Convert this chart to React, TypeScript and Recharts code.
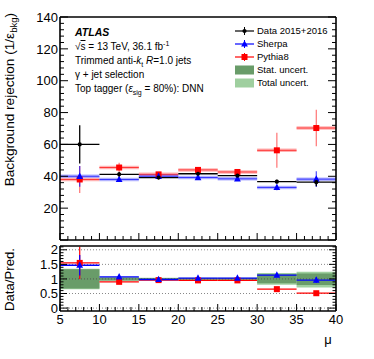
import React from 'react';
import {
  ComposedChart,
  Scatter,
  XAxis,
  YAxis,
  ErrorBar,
  ReferenceArea,
  ReferenceLine,
} from 'recharts';

// mu bins
const binCenters = [7.5, 12.5, 17.5, 22.5, 27.5, 32.5, 37.5];
const binHalfWidth = [2.5, 2.5, 2.5, 2.5, 2.5, 2.5, 2.5];

// top panel: background rejection
const dataVals = [60, 41.2, 39.2, 41.6, 40.4, 36.6, 36.3];
const dataErr = [12, 1.5, 1, 1, 1, 1.2, 2.5];
const sherpaVals = [40, 38, 40, 39.2, 38.4, 33, 38.2];
const sherpaErr = [6.5, 1.5, 1, 1.2, 1.2, 1.8, 5];
const pythiaVals = [38, 45.5, 41.2, 44, 42.7, 56.3, 70.3];
const pythiaErr = [8.5, 3, 1.5, 1.5, 1.5, 11, 11.5];

// bottom panel: data / prediction
const ratioSherpa = [1.47, 1.07, 0.98, 1.03, 1.03, 1.13, 0.96];
const ratioSherpaErr = [0.35, 0.05, 0.03, 0.04, 0.04, 0.06, 0.1];
const ratioPythia = [1.55, 0.9, 0.96, 0.95, 0.95, 0.65, 0.51];
const ratioPythiaErr = [0.55, 0.06, 0.03, 0.03, 0.03, 0.04, 0.04];
const statLow = [0.67, 0.95, 0.97, 0.97, 0.97, 0.85, 0.79];
const statHigh = [1.33, 1.05, 1.03, 1.03, 1.03, 1.16, 1.19];
const totLow = [0.65, 0.94, 0.96, 0.96, 0.96, 0.8, 0.71];
const totHigh = [1.35, 1.06, 1.04, 1.04, 1.04, 1.2, 1.25];

// ticks
const xMinorTicks = Array.from({ length: 36 }, (_, i) => 5 + i);
const xLabels = [5, 10, 15, 20, 25, 30, 35, 40];
const yTopTicks = Array.from({ length: 36 }, (_, i) => i * 4);
const yTopLabels = [20, 40, 60, 80, 100, 120, 140];
const yRatioTicks = Array.from({ length: 22 }, (_, i) => i / 10);
const yRatioLabels = [0, 0.5, 1, 1.5, 2];
const ratioGrid = [0, 0.5, 1, 1.5, 2];

const W = 374;
const H = 359;
const FONT = '"Liberation Sans", Arial, Helvetica, sans-serif';
const GREEN_STAT = '#699c69';
const GREEN_TOT = '#9fcf9f';

const rows = (vals: number[], errs: number[]) =>
  binCenters.map((x, i) => ({ x, y: vals[i], ex: binHalfWidth[i], ey: errs[i] }));

type Side = 'bottom' | 'top' | 'left' | 'right';

const makeTick =
  (side: Side, major: number, majorLen: number, minorLen: number, labels: number[]) =>
  (props: any) => {
    const { x, y, payload } = props;
    const v = payload.value as number;
    const isMajor = Math.abs(v / major - Math.round(v / major)) < 1e-6;
    const len = isMajor ? majorLen : minorLen;
    let x2 = x;
    let y2 = y;
    if (side === 'bottom') y2 = y - len;
    if (side === 'top') y2 = y + len;
    if (side === 'left') x2 = x + len;
    if (side === 'right') x2 = x - len;
    const showLabel = labels.some((l) => Math.abs(l - v) < 1e-6);
    return (
      <g>
        <line x1={x} y1={y} x2={x2} y2={y2} stroke="#000" strokeWidth={1} />
        {showLabel && side === 'bottom' && (
          <text x={x} y={y + 13} textAnchor="middle" fontSize={13} fontFamily={FONT} fill="#000">
            {v}
          </text>
        )}
        {showLabel && side === 'left' && (
          <text x={x - 2} y={y} dy="0.36em" textAnchor="end" fontSize={13} fontFamily={FONT} fill="#000">
            {v}
          </text>
        )}
      </g>
    );
  };

const axisLine = { stroke: '#000', strokeWidth: 1.6 };

const Square = (props: any) => {
  const { cx, cy, fill } = props;
  return <rect x={cx - 3} y={cy - 3} width={6} height={6} fill={fill} />;
};
const Triangle = (props: any) => {
  const { cx, cy, fill } = props;
  return <polygon points={`${cx},${cy - 3.8} ${cx - 3.4},${cy + 2.6} ${cx + 3.4},${cy + 2.6}`} fill={fill} />;
};
const Dot = (props: any) => {
  const { cx, cy, fill } = props;
  return <circle cx={cx} cy={cy} r={2.1} fill={fill} />;
};

const YTitle = ({ viewBox, size, children }: any) => {
  const tx = viewBox.x + viewBox.width - 46;
  const ty = viewBox.y - 4;
  return (
    <text
      x={tx}
      y={ty}
      transform={`rotate(-90, ${tx}, ${ty})`}
      textAnchor="end"
      fontSize={size}
      fontFamily={FONT}
      fill="#000"
    >
      {children}
    </text>
  );
};

const legendItems = [
  { label: 'Data 2015+2016', color: '#000', kind: 'dot' },
  { label: 'Sherpa', color: '#0000ff', kind: 'tri' },
  { label: 'Pythia8', color: '#ff0000', kind: 'sq' },
  { label: 'Stat. uncert.', color: GREEN_STAT, kind: 'box' },
  { label: 'Total uncert.', color: GREEN_TOT, kind: 'box' },
];

const LegendMark = ({ kind, color }: { kind: string; color: string }) => (
  <svg width={20} height={12} style={{ display: 'block' }}>
    {kind === 'box' ? (
      <rect x={0} y={1.5} width={19} height={9} fill={color} />
    ) : (
      <g>
        <line x1={0} y1={6} x2={19} y2={6} stroke={color} strokeWidth={1.2} />
        <line x1={9.5} y1={2} x2={9.5} y2={10} stroke={color} strokeWidth={1} />
        {kind === 'dot' && <circle cx={9.5} cy={6} r={2.1} fill={color} />}
        {kind === 'tri' && <polygon points="9.5,2.4 6.1,8.6 12.9,8.6" fill={color} />}
        {kind === 'sq' && <rect x={6.5} y={3} width={6} height={6} fill={color} />}
      </g>
    )}
  </svg>
);

const annoLine: React.CSSProperties = {
  position: 'absolute',
  left: 75,
  fontSize: 10,
  lineHeight: '14px',
  whiteSpace: 'nowrap',
  color: '#000',
};

const App: React.FC = () => {
  const dataRows = rows(dataVals, dataErr);
  const sherpaRows = rows(sherpaVals, sherpaErr);
  const pythiaRows = rows(pythiaVals, pythiaErr);
  const rSherpaRows = rows(ratioSherpa, ratioSherpaErr);
  const rPythiaRows = rows(ratioPythia, ratioPythiaErr);

  return (
    <div style={{ position: 'absolute', left: 0, top: 0, width: W, height: H, background: '#fff', fontFamily: FONT }}>
      {/* upper panel */}
      <div style={{ position: 'absolute', left: 0, top: 0 }}>
        <ComposedChart width={W} height={H} margin={{ top: 16, right: 37, bottom: 118, left: 59 }}>
          <XAxis type="number" dataKey="x" domain={[5, 40]} ticks={xMinorTicks} interval={0} height={1}
            tickSize={0} tickMargin={0} tickLine={false} axisLine={axisLine} allowDataOverflow
            tick={makeTick('bottom', 5, 7, 4, [])} />
          <XAxis xAxisId="top" orientation="top" type="number" domain={[5, 40]} ticks={xMinorTicks} interval={0}
            height={1} tickSize={0} tickMargin={0} tickLine={false} axisLine={axisLine} allowDataOverflow
            tick={makeTick('top', 5, 7, 4, [])} />
          <YAxis type="number" dataKey="y" domain={[0, 140]} ticks={yTopTicks} interval={0} width={1}
            tickSize={0} tickMargin={0} tickLine={false} axisLine={axisLine} allowDataOverflow
            tick={makeTick('left', 20, 8, 4, yTopLabels)}
            label={{
              content: (p: any) => (
                <YTitle viewBox={p.viewBox} size={13.6}>
                  Background rejection (1/ε
                  <tspan dy={3} fontSize={9.5}>bkg</tspan>
                  <tspan dy={-3}>)</tspan>
                </YTitle>
              ),
            }} />
          <YAxis yAxisId="right" orientation="right" type="number" domain={[0, 140]} ticks={yTopTicks} interval={0}
            width={1} tickSize={0} tickMargin={0} tickLine={false} axisLine={axisLine} allowDataOverflow
            tick={makeTick('right', 20, 8, 4, [])} />

          <Scatter data={pythiaRows} dataKey="y" fill="#ff0000" shape={<Square />} isAnimationActive={false}>
            <ErrorBar dataKey="ex" direction="x" width={0} stroke="#ff0000" strokeOpacity={0.3} strokeWidth={3.5} isAnimationActive={false} />
            <ErrorBar dataKey="ex" direction="x" width={0} stroke="#ff0000" strokeOpacity={0.7} strokeWidth={1} isAnimationActive={false} />
            <ErrorBar dataKey="ey" direction="y" width={0} stroke="#ff0000" strokeOpacity={0.55} strokeWidth={1.2} isAnimationActive={false} />
          </Scatter>
          <Scatter data={sherpaRows} dataKey="y" fill="#0000ff" shape={<Triangle />} isAnimationActive={false}>
            <ErrorBar dataKey="ex" direction="x" width={0} stroke="#0000ff" strokeOpacity={0.3} strokeWidth={3.5} isAnimationActive={false} />
            <ErrorBar dataKey="ex" direction="x" width={0} stroke="#0000ff" strokeOpacity={0.7} strokeWidth={1} isAnimationActive={false} />
            <ErrorBar dataKey="ey" direction="y" width={0} stroke="#0000ff" strokeOpacity={0.7} strokeWidth={1.2} isAnimationActive={false} />
          </Scatter>
          <Scatter data={dataRows} dataKey="y" fill="#000" shape={<Dot />} isAnimationActive={false}>
            <ErrorBar dataKey="ex" direction="x" width={0} stroke="#000" strokeWidth={1.3} isAnimationActive={false} />
            <ErrorBar dataKey="ey" direction="y" width={0} stroke="#000" strokeWidth={1.3} isAnimationActive={false} />
          </Scatter>
        </ComposedChart>
      </div>

      {/* ratio panel */}
      <div style={{ position: 'absolute', left: 0, top: 0 }}>
        <ComposedChart width={W} height={H} margin={{ top: 245, right: 37, bottom: 47, left: 59 }}>
          <XAxis type="number" dataKey="x" domain={[5, 40]} ticks={xMinorTicks} interval={0} height={1}
            tickSize={0} tickMargin={0} tickLine={false} axisLine={axisLine} allowDataOverflow
            tick={makeTick('bottom', 5, 7, 4, xLabels)}
            label={{
              content: (p: any) => (
                <text x={p.viewBox.x + p.viewBox.width - 8} y={p.viewBox.y + 33} textAnchor="middle"
                  fontSize={13} fontFamily={FONT} fill="#000">
                  μ
                </text>
              ),
            }} />
          <XAxis xAxisId="top" orientation="top" type="number" domain={[5, 40]} ticks={xMinorTicks} interval={0}
            height={1} tickSize={0} tickMargin={0} tickLine={false} axisLine={axisLine} allowDataOverflow
            tick={makeTick('top', 5, 6, 3, [])} />
          <YAxis type="number" dataKey="y" domain={[-0.1, 2.13]} ticks={yRatioTicks} interval={0} width={1}
            tickSize={0} tickMargin={0} tickLine={false} axisLine={axisLine} allowDataOverflow
            tick={makeTick('left', 0.5, 7, 3.5, yRatioLabels)}
            label={{
              content: (p: any) => (
                <YTitle viewBox={{ x: p.viewBox.x, y: p.viewBox.y + 6, width: p.viewBox.width }} size={13.2}>
                  Data/Pred.
                </YTitle>
              ),
            }} />
          <YAxis yAxisId="right" orientation="right" type="number" domain={[-0.1, 2.13]} ticks={yRatioTicks}
            interval={0} width={1} tickSize={0} tickMargin={0} tickLine={false} axisLine={axisLine} allowDataOverflow
            tick={makeTick('right', 0.5, 7, 3.5, [])} />

          {binCenters.map((c, i) => (
            <ReferenceArea key={`t${i}`} x1={c - binHalfWidth[i]} x2={c + binHalfWidth[i]} y1={totLow[i]} y2={totHigh[i]}
              fill={GREEN_TOT} fillOpacity={1} stroke="none" />
          ))}
          {binCenters.map((c, i) => (
            <ReferenceArea key={`s${i}`} x1={c - binHalfWidth[i]} x2={c + binHalfWidth[i]} y1={statLow[i]} y2={statHigh[i]}
              fill={GREEN_STAT} fillOpacity={1} stroke="none" />
          ))}
          {ratioGrid.map((g) => (
            <ReferenceLine key={`g${g}`} y={g} stroke={g === 1 ? '#555' : '#888'} strokeWidth={1} strokeDasharray="1 2" />
          ))}

          <Scatter data={rPythiaRows} dataKey="y" fill="#ff0000" shape={<Square />} isAnimationActive={false}>
            <ErrorBar dataKey="ex" direction="x" width={0} stroke="#ff0000" strokeWidth={1.3} isAnimationActive={false} />
            <ErrorBar dataKey="ey" direction="y" width={0} stroke="#ff0000" strokeWidth={1.2} isAnimationActive={false} />
          </Scatter>
          <Scatter data={rSherpaRows} dataKey="y" fill="#0000ff" shape={<Triangle />} isAnimationActive={false}>
            <ErrorBar dataKey="ex" direction="x" width={0} stroke="#0000ff" strokeWidth={1.3} isAnimationActive={false} />
            <ErrorBar dataKey="ey" direction="y" width={0} stroke="#0000ff" strokeWidth={1.2} isAnimationActive={false} />
          </Scatter>
        </ComposedChart>
      </div>

      {/* annotations */}
      <div style={{ ...annoLine, top: 25, fontSize: 10.5, fontWeight: 'bold', fontStyle: 'italic' }}>ATLAS</div>
      <div style={{ ...annoLine, top: 40 }}>
        √<span style={{ textDecoration: 'overline' }}>s</span> = 13 TeV, 36.1 fb<sup style={{ fontSize: 7, lineHeight: 0 }}>-1</sup>
      </div>
      <div style={{ ...annoLine, top: 54 }}>
        Trimmed anti-<i>k</i><sub style={{ fontSize: 7, lineHeight: 0 }}>t</sub> <i>R</i>=1.0 jets
      </div>
      <div style={{ ...annoLine, top: 68 }}>γ + jet selection</div>
      <div style={{ ...annoLine, top: 82 }}>
        Top tagger (<i>ε</i><sub style={{ fontSize: 7, lineHeight: 0 }}>sig</sub> = 80%): DNN
      </div>

      {/* legend */}
      <div style={{ position: 'absolute', left: 235, top: 24 }}>
        {legendItems.map((it) => (
          <div key={it.label} style={{ display: 'flex', alignItems: 'center', height: 13 }}>
            <LegendMark kind={it.kind} color={it.color} />
            <span style={{ marginLeft: 2, fontSize: 9.5, lineHeight: '13px', whiteSpace: 'nowrap' }}>{it.label}</span>
          </div>
        ))}
      </div>
    </div>
  );
};

export default App;
